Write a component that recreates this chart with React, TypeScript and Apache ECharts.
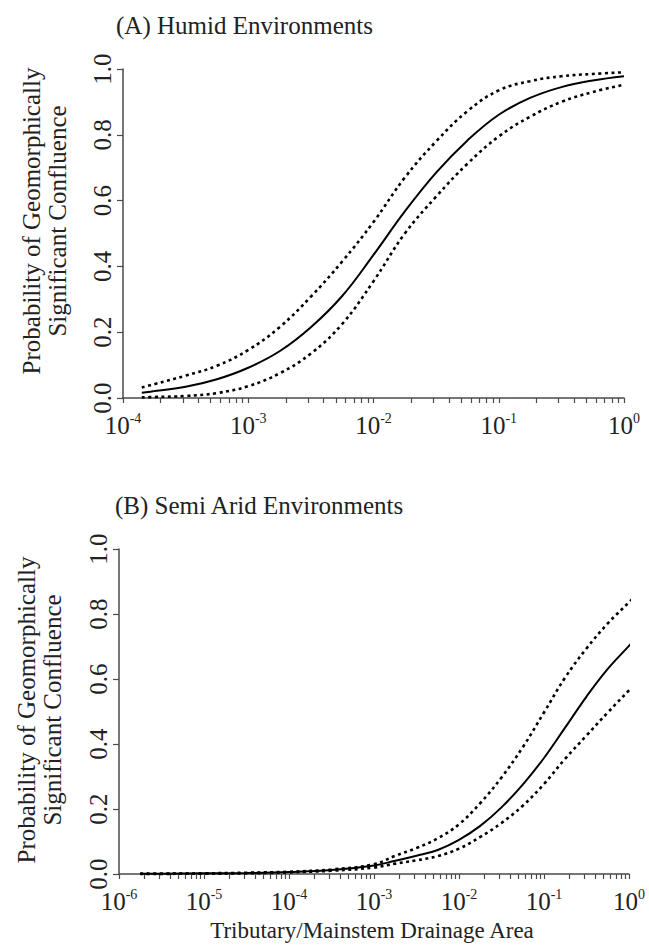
import React, { useEffect, useRef } from 'react';
import * as echarts from 'echarts';

// (A) Humid environments — x values are log10(tributary/mainstem drainage area)
const humidLogArea = [-3.85, -3.75, -3.5, -3.25, -3, -2.75, -2.5, -2.25, -2, -1.75, -1.5, -1.25, -1, -0.75, -0.5, -0.25, 0];
const humidFit = [0.016, 0.021, 0.034, 0.057, 0.092, 0.142, 0.215, 0.31, 0.435, 0.567, 0.685, 0.783, 0.861, 0.912, 0.945, 0.965, 0.978];
const humidUpper = [0.032, 0.042, 0.068, 0.098, 0.146, 0.215, 0.308, 0.415, 0.535, 0.67, 0.78, 0.872, 0.935, 0.963, 0.978, 0.985, 0.99];
const humidLower = [0.002, 0.003, 0.006, 0.015, 0.036, 0.075, 0.135, 0.225, 0.355, 0.5, 0.612, 0.712, 0.795, 0.855, 0.9, 0.93, 0.952];

// (B) Semi arid environments
const aridLogArea = [-5.75, -5.5, -5, -4.5, -4, -3.5, -3, -2.75, -2.5, -2.25, -2, -1.75, -1.5, -1.25, -1, -0.75, -0.5, -0.25, 0, 0.05];
const aridFit = [0.001, 0.001, 0.002, 0.003, 0.006, 0.012, 0.026, 0.041, 0.056, 0.074, 0.105, 0.148, 0.205, 0.275, 0.357, 0.451, 0.546, 0.631, 0.702, 0.716];
const aridUpper = [0.001, 0.001, 0.002, 0.004, 0.007, 0.014, 0.03, 0.056, 0.08, 0.11, 0.153, 0.218, 0.297, 0.39, 0.497, 0.605, 0.694, 0.771, 0.836, 0.849];
const aridLower = [0.0005, 0.0005, 0.001, 0.002, 0.005, 0.01, 0.02, 0.032, 0.042, 0.055, 0.078, 0.114, 0.157, 0.21, 0.277, 0.355, 0.426, 0.497, 0.565, 0.578];

const humidDecades = [-4, -3, -2, -1, 0];
const aridDecades = [-6, -5, -4, -3, -2, -1, 0];

const titleA = '(A) Humid Environments';
const titleB = '(B) Semi Arid Environments';
const yTitle = 'Probability of Geomorphically\nSignificant Confluence';
const xTitle = 'Tributary/Mainstem Drainage Area';

const FONT = "'Liberation Serif', 'Times New Roman', serif";
const AXIS_COLOR = '#4a4a4a';
const TEXT_COLOR = '#222';

function logTicks(decades: number[]) {
  const out: number[] = [];
  for (let i = 0; i < decades.length - 1; i++) {
    for (let k = 1; k <= 9; k++) out.push(decades[i] + Math.log10(k));
  }
  out.push(decades[decades.length - 1]);
  return out;
}

function zip(xs: number[], ys: number[]) {
  return xs.map((x, i) => [x, ys[i]]);
}

function xAxisFor(gridIndex: number, decades: number[]) {
  return {
    type: 'value',
    gridIndex,
    position: 'bottom',
    min: decades[0],
    max: decades[decades.length - 1],
    interval: 1,
    splitLine: { show: false },
    axisLine: { show: true, onZero: false, lineStyle: { color: AXIS_COLOR, width: 1.5 } },
    axisTick: {
      show: true,
      length: 5,
      customValues: logTicks(decades),
      lineStyle: { color: AXIS_COLOR, width: 1.2 },
    },
    axisLabel: {
      show: true,
      margin: 13,
      customValues: decades,
      formatter: (v: number) => `{b|10}{s|${v}}`,
      rich: {
        b: { fontSize: 25, fontFamily: FONT, color: TEXT_COLOR, lineHeight: 28 },
        s: { fontSize: 14, fontFamily: FONT, color: TEXT_COLOR, verticalAlign: 'top', lineHeight: 16 },
      },
    },
  };
}

function yAxisFor(gridIndex: number) {
  return {
    type: 'value',
    gridIndex,
    position: 'left',
    min: 0,
    max: 1,
    interval: 0.2,
    splitLine: { show: false },
    axisLine: { show: true, onZero: false, lineStyle: { color: AXIS_COLOR, width: 1.5 } },
    axisTick: { show: true, length: 6, lineStyle: { color: AXIS_COLOR, width: 1.2 } },
    axisLabel: {
      rotate: 90,
      margin: 8,
      fontSize: 25,
      fontFamily: FONT,
      color: TEXT_COLOR,
      formatter: (v: number) => v.toFixed(1),
    },
  };
}

function lineSeries(name: string, axisIndex: number, xs: number[], ys: number[], dashed: boolean) {
  return {
    name,
    type: 'line',
    xAxisIndex: axisIndex,
    yAxisIndex: axisIndex,
    data: zip(xs, ys),
    showSymbol: false,
    smooth: 0.4,
    clip: false,
    silent: true,
    lineStyle: dashed
      ? { color: '#000', width: 2.6, type: [3, 3.5] }
      : { color: '#000', width: 2 },
  };
}

export default function App() {
  const ref = useRef<HTMLDivElement>(null);

  useEffect(() => {
    if (!ref.current) return;
    const chart = echarts.init(ref.current, null, { renderer: 'svg' });
    const option = {
      animation: false,
      backgroundColor: '#fff',
      grid: [
        { left: 123, top: 69, width: 501, height: 329 },
        { left: 119, top: 549, width: 510, height: 325 },
      ],
      xAxis: [xAxisFor(0, humidDecades), xAxisFor(1, aridDecades)],
      yAxis: [yAxisFor(0), yAxisFor(1)],
      series: [
        lineSeries('Humid fit', 0, humidLogArea, humidFit, false),
        lineSeries('Humid upper', 0, humidLogArea, humidUpper, true),
        lineSeries('Humid lower', 0, humidLogArea, humidLower, true),
        lineSeries('Semi arid fit', 1, aridLogArea, aridFit, false),
        lineSeries('Semi arid upper', 1, aridLogArea, aridUpper, true),
        lineSeries('Semi arid lower', 1, aridLogArea, aridLower, true),
      ],
      graphic: [
        {
          type: 'text',
          x: 116,
          y: 25,
          style: { text: titleA, fontSize: 25, fontFamily: FONT, fill: TEXT_COLOR, align: 'left', verticalAlign: 'middle' },
        },
        {
          type: 'text',
          x: 115,
          y: 505,
          style: { text: titleB, fontSize: 25, fontFamily: FONT, fill: TEXT_COLOR, align: 'left', verticalAlign: 'middle' },
        },
        {
          type: 'text',
          x: 44,
          y: 221,
          rotation: Math.PI / 2,
          style: { text: yTitle, fontSize: 25, fontFamily: FONT, fill: TEXT_COLOR, align: 'center', verticalAlign: 'middle', lineHeight: 26 },
        },
        {
          type: 'text',
          x: 39,
          y: 710,
          rotation: Math.PI / 2,
          style: { text: yTitle, fontSize: 25, fontFamily: FONT, fill: TEXT_COLOR, align: 'center', verticalAlign: 'middle', lineHeight: 26 },
        },
        {
          type: 'text',
          x: 372,
          y: 930,
          style: { text: xTitle, fontSize: 23, fontFamily: FONT, fill: TEXT_COLOR, align: 'center', verticalAlign: 'middle' },
        },
      ],
    };
    chart.setOption(option as any);
    return () => chart.dispose();
  }, []);

  return (
    <div
      ref={ref}
      style={{ position: 'absolute', left: 0, top: 0, width: 649, height: 945, background: '#fff' }}
    />
  );
}
